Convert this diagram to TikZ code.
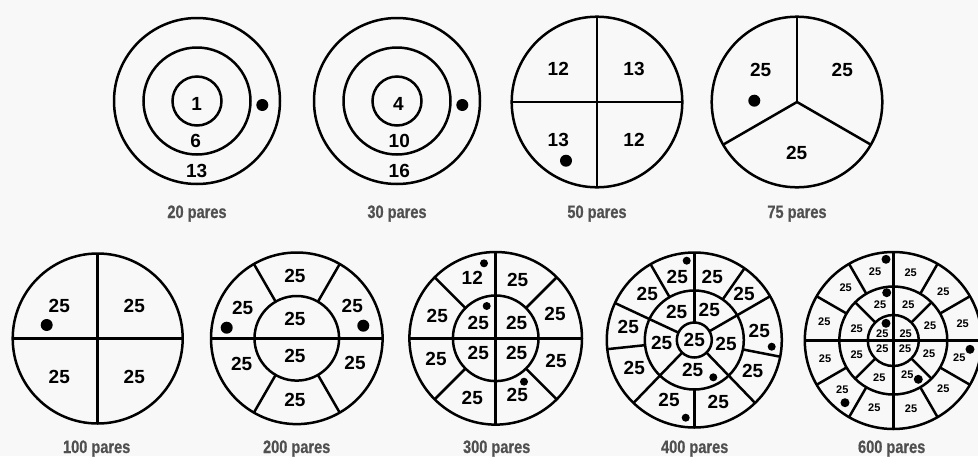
\documentclass[tikz,border=0pt]{standalone}
\usepackage{fontspec}
\setmainfont{Liberation Sans}
\newfontfamily\capfont[FakeStretch=0.81,FakeBold=0.6]{Liberation Sans Bold}
\definecolor{bg}{HTML}{F8F8F8}
\definecolor{capgrey}{HTML}{505050}
\tikzset{
  ring/.style={draw=black, line width=2.5pt},
  spoke/.style={draw=black, line width=2.5pt},
  num/.style={font=\fontsize{19}{19}\selectfont\bfseries, inner sep=0pt},
  smallnum/.style={font=\fontsize{11}{11}\selectfont\bfseries, inner sep=0pt},
  captext/.style={font=\capfont\fontsize{18}{18}\selectfont, text=capgrey, anchor=base, inner sep=0pt},
}
\begin{document}
\begin{tikzpicture}[x=1pt,y=1pt]
\useasboundingbox (0,0) rectangle (978,-456);
\fill[bg] (0,0) rectangle (978,-456);

% ---------- 20 pares
\draw[ring] (197,-101) circle (83);
\draw[ring] (197,-101) circle (53.5);
\draw[ring] (197,-101) circle (24.5);
\node[num] (c1a) at (196.7,-104) {1};
\node[num] (c1b) at (195.7,-140.7) {6};
\node[num] (c1c) at (196.7,-171) {13};
\fill (262.3,-105) circle (6);
\node[captext] (cap1) at (197,-218) {20 pares};

% ---------- 30 pares
\draw[ring] (397,-101) circle (83);
\draw[ring] (397,-101) circle (53.5);
\draw[ring] (397,-101) circle (24.5);
\node[num] (c2a) at (398.3,-104) {4};
\node[num] (c2b) at (399.3,-140.7) {10};
\node[num] (c2c) at (399.3,-171) {16};
\fill (462.3,-105) circle (6);
\node[captext] (cap2) at (397,-218) {30 pares};

% ---------- 50 pares
\begin{scope}[shift={(597,-102)}]
\draw[ring] (0,0) circle (85.3);
\draw[spoke] (0,85.3) -- (0,-85.3);
\draw[spoke] (-85.3,0) -- (85.3,0);
\end{scope}
\node[num] (c3a) at (558.3,-69.3) {12};
\node[num] (c3b) at (634,-69.3) {13};
\node[num] (c3c) at (558.3,-140) {13};
\node[num] (c3d) at (634,-140) {12};
\fill (566,-160.7) circle (6);
\node[captext] (cap3) at (597,-218) {50 pares};

% ---------- 75 pares
\begin{scope}[shift={(797,-102)}]
\draw[ring] (0,0) circle (85.3);
\foreach \a in {90,210,330} \draw[spoke] (0,0) -- (\a:85.3);
\end{scope}
\node[num] (c4a) at (760.7,-70) {25};
\node[num] (c4b) at (842.3,-70) {25};
\node[num] (c4c) at (796.7,-152.7) {25};
\fill (754.3,-100.7) circle (6);
\node[captext] (cap4) at (797,-218) {75 pares};

% ---------- 100 pares
\begin{scope}[shift={(97.7,-338.5)}]
\draw[ring] (0,0) circle (85);
\draw[spoke] (0,85) -- (0,-85);
\draw[spoke] (-85,0) -- (85,0);
\end{scope}
\node[num] (c5a) at (59.3,-305.7) {25};
\node[num] (c5b) at (134.3,-305.7) {25};
\node[num] (c5c) at (59.3,-376.7) {25};
\node[num] (c5d) at (134.3,-376.7) {25};
\fill (46.7,-325) circle (6);
\node[captext] (cap5) at (96.7,-453) {100 pares};

% ---------- 200 pares
\begin{scope}[shift={(296.8,-338.3)}]
\draw[ring] (0,0) circle (85.8);
\draw[ring] (0,0) circle (42.3);
\draw[spoke] (-85.8,0) -- (85.8,0);
\foreach \a in {60,120,240,300} \draw[spoke] (\a:42.3) -- (\a:85.8);
\end{scope}
\node[num] (c6a) at (295,-275.7) {25};
\node[num] (c6b) at (295,-319.3) {25};
\node[num] (c6c) at (295,-356) {25};
\node[num] (c6d) at (295,-400) {25};
\node[num] (c6e) at (242.7,-308.3) {25};
\node[num] (c6f) at (352.3,-306) {25};
\node[num] (c6g) at (241.7,-364) {25};
\node[num] (c6h) at (355,-362.7) {25};
\fill (226.7,-327.7) circle (6);
\fill (363.3,-325.7) circle (6);
\node[captext] (cap6) at (296.7,-453) {200 pares};

% ---------- 300 pares
\begin{scope}[shift={(495.7,-338.3)}]
\draw[ring] (0,0) circle (86.3);
\draw[ring] (0,0) circle (42.8);
\draw[spoke] (-86.3,0) -- (86.3,0);
\draw[spoke] (0,86.3) -- (0,-86.3);
\foreach \a in {45,135,225,315} \draw[spoke] (\a:42.8) -- (\a:86.3);
\end{scope}
\node[num] (c7a) at (472.3,-277.7) {12};
\node[num] (c7b) at (517.7,-280) {25};
\node[num] (c7c) at (437.3,-315.7) {25};
\node[num] (c7d) at (555,-314.3) {25};
\node[num] (c7e) at (436,-359.3) {25};
\node[num] (c7f) at (556,-361) {25};
\node[num] (c7g) at (472.3,-397.7) {25};
\node[num] (c7h) at (517.3,-395) {25};
\node[num] (c7i) at (478.3,-323.3) {25};
\node[num] (c7j) at (516.7,-322.7) {25};
\node[num] (c7k) at (478.3,-353.3) {25};
\node[num] (c7l) at (516.7,-352.7) {25};
\fill (484,-263.3) circle (4);
\fill (486.7,-306) circle (4);
\fill (524,-381.7) circle (4);
\node[captext] (cap7) at (496.7,-453) {300 pares};

% ---------- 400 pares
\begin{scope}[shift={(694.3,-340)}]
\draw[ring] (0,0) circle (87.5);
\draw[ring] (0,0) circle (49.5);
\draw[ring] (0,0) circle (17.5);
\foreach \a in {90,155,226,314,30} \draw[spoke] (\a:17.5) -- (\a:87.5);
\foreach \a in {120,186,270,349,55} \draw[spoke] (\a:49.5) -- (\a:87.5);
\end{scope}
\node[num] (c8a) at (677.3,-276.7) {25};
\node[num] (c8b) at (712.3,-276.7) {25};
\node[num] (c8c) at (647.3,-294.3) {25};
\node[num] (c8d) at (744,-294.3) {25};
\node[num] (c8e) at (628.3,-327.3) {25};
\node[num] (c8f) at (759.3,-331) {25};
\node[num] (c8g) at (634.3,-368.3) {25};
\node[num] (c8h) at (752.7,-370.7) {25};
\node[num] (c8i) at (669,-400) {25};
\node[num] (c8j) at (718.3,-401.7) {25};
\node[num] (c8k) at (676.7,-311.7) {25};
\node[num] (c8l) at (709.3,-310) {25};
\node[num] (c8m) at (661.7,-343.3) {25};
\node[num] (c8n) at (726,-344) {25};
\node[num] (c8o) at (692.7,-370) {25};
\node[num] (c8p) at (694.3,-340) {25};
\fill (686.7,-260.7) circle (4);
\fill (771.7,-346.7) circle (4);
\fill (713.3,-377.3) circle (4);
\fill (685.7,-417.7) circle (4);
\node[captext] (cap8) at (694.7,-453) {400 pares};

% ---------- 600 pares
\begin{scope}[shift={(893.3,-340.5)}]
\draw[ring] (0,0) circle (88.5);
\draw[ring] (0,0) circle (54);
\draw[ring] (0,0) circle (25.5);
\draw[spoke] (-88.5,0) -- (88.5,0);
\draw[spoke] (0,88.5) -- (0,-88.5);
\foreach \a in {45,135,225,315} \draw[spoke] (\a:25.5) -- (\a:54);
\foreach \a in {30,60,120,150,210,240,300,330} \draw[spoke] (\a:54) -- (\a:88.5);
\end{scope}
\node[smallnum] (c9a) at (875,-271.7) {25};
\node[smallnum] (c9b) at (910.7,-272.7) {25};
\node[smallnum] (c9c) at (845.7,-287.3) {25};
\node[smallnum] (c9d) at (943.3,-291.7) {25};
\node[smallnum] (c9e) at (824.3,-321.7) {25};
\node[smallnum] (c9f) at (962.7,-323.3) {25};
\node[smallnum] (c9g) at (825,-358.3) {25};
\node[smallnum] (c9h) at (959.3,-357.3) {25};
\node[smallnum] (c9i) at (842.3,-390) {25};
\node[smallnum] (c9j) at (943.3,-388.3) {25};
\node[smallnum] (c9k) at (874.3,-407.3) {25};
\node[smallnum] (c9l) at (911,-408.3) {25};
\node[smallnum] (c9m) at (880,-304.3) {25};
\node[smallnum] (c9n) at (908.3,-304.3) {25};
\node[smallnum] (c9o) at (856.7,-328.3) {25};
\node[smallnum] (c9p) at (930,-325.7) {25};
\node[smallnum] (c9q) at (856.7,-355) {25};
\node[smallnum] (c9r) at (929,-354) {25};
\node[smallnum] (c9s) at (879.3,-377.3) {25};
\node[smallnum] (c9t) at (907.3,-375) {25};
\node[smallnum] (c9u) at (882.3,-333.3) {25};
\node[smallnum] (c9v) at (905.7,-333.3) {25};
\node[smallnum] (c9w) at (882.3,-348.3) {25};
\node[smallnum] (c9x) at (905,-348.3) {25};
\fill (886,-259.3) circle (4.5);
\fill (886.7,-292.7) circle (4.5);
\fill (886,-323.3) circle (4.5);
\fill (970,-349.3) circle (4.5);
\fill (918.3,-379.3) circle (4.5);
\fill (845,-402.7) circle (4.5);
\node[captext] (cap9) at (891.7,-453) {600 pares};
\end{tikzpicture}
\end{document}
